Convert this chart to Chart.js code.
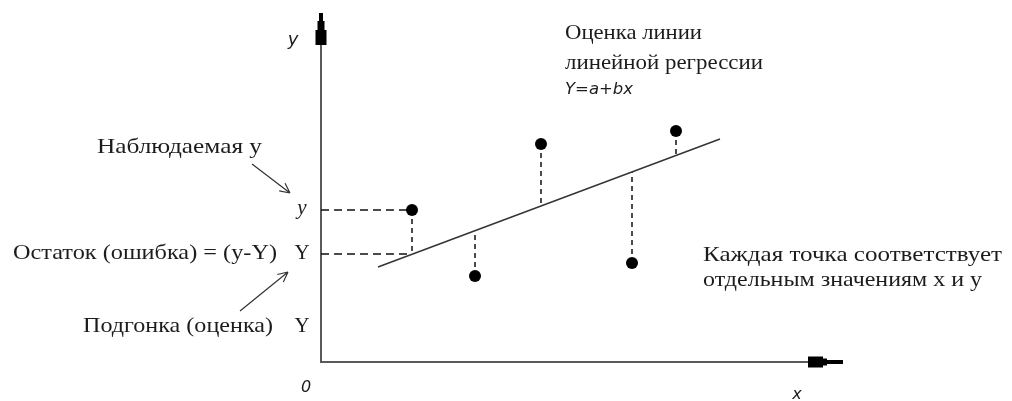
<!DOCTYPE html>
<html><head><meta charset="utf-8">
<script src="https://cdn.jsdelivr.net/npm/chart.js@4"></script>
<style>html,body{margin:0;padding:0;background:#fff;overflow:hidden}</style>
</head><body>
<canvas id="c" width="1012" height="401"></canvas>
<script>
// Observed points (x, y)
const obsX = [1.82, 3.08, 4.40, 6.22, 7.10];
const obsY = [3.04, 1.72, 4.36, 1.98, 4.62];
// Fitted values on the regression line at each observed x
const fitY = [2.16, 2.60, 3.16, 3.80, 4.16];
// Regression line end points
const lineX = [1.14, 7.98];
const lineY = [1.90, 4.46];
// Axis extents
const xMax = 10.5, yMax = 7;
const xAxisEnd = 10.44, yAxisEnd = 6.98;

const SERIF = '"Liberation Serif", "Times New Roman", serif';
const SANS = '"DejaVu Sans", Verdana, sans-serif';
// w = target rendered width in px (text is stretched horizontally to fit)
const annotations = [
  {t: 'y', x: -0.56, y: 6.44, f: 'italic 18px ' + SANS, a: 'center'},
  {t: '0', x: -0.30, y: -0.52, f: 'italic 16px ' + SANS, a: 'center'},
  {t: 'x', x: 9.52, y: -0.66, f: 'italic 16px ' + SANS, a: 'center'},
  {t: 'Оценка линии', x: 4.88, y: 6.58, f: '22px ' + SERIF, a: 'left', w: 137},
  {t: 'линейной регрессии', x: 4.88, y: 5.98, f: '22px ' + SERIF, a: 'left', w: 198},
  {t: 'Y=a+bx', x: 4.88, y: 5.44, f: 'italic 15px ' + SANS, a: 'left', w: 68},
  {t: 'Наблюдаемая y', x: -4.48, y: 4.30, f: '21px ' + SERIF, a: 'left', w: 165},
  {t: 'y', x: -0.38, y: 3.08, f: 'italic 21px ' + SERIF, a: 'center'},
  {t: 'Остаток (ошибка) = (y-Y)', x: -6.16, y: 2.18, f: '21px ' + SERIF, a: 'left', w: 264},
  {t: 'Y', x: -0.38, y: 2.18, f: '21px ' + SERIF, a: 'center'},
  {t: 'Подгонка (оценка)', x: -4.76, y: 0.72, f: '21px ' + SERIF, a: 'left', w: 190},
  {t: 'Y', x: -0.38, y: 0.72, f: '21px ' + SERIF, a: 'center'},
  {t: 'Каждая точка соответствует', x: 7.64, y: 2.14, f: '21px ' + SERIF, a: 'left', w: 299},
  {t: 'отдельным значениям x и y', x: 7.64, y: 1.64, f: '21px ' + SERIF, a: 'left', w: 279}
];
const pointers = [
  {x1: -1.38, y1: 3.96, x2: -0.62, y2: 3.38},
  {x1: -1.62, y1: 1.02, x2: -0.66, y2: 1.80}
];

const residualData = [];
obsX.forEach((x, i) => {
  residualData.push({x: x, y: obsY[i]}, {x: x, y: fitY[i]}, {x: x, y: null});
});
const guideData = [
  {x: 0, y: obsY[0]}, {x: obsX[0], y: obsY[0]}, {x: 0, y: null},
  {x: 0, y: fitY[0]}, {x: obsX[0], y: fitY[0]}
];

const decor = {
  id: 'decor',
  beforeDatasetsDraw(chart) {
    const ctx = chart.ctx, xs = chart.scales.x, ys = chart.scales.y;
    const ox = xs.getPixelForValue(0), oy = ys.getPixelForValue(0);
    const ex = xs.getPixelForValue(xAxisEnd), ey = ys.getPixelForValue(yAxisEnd);
    ctx.save();
    ctx.strokeStyle = '#5a5a5a';
    ctx.lineWidth = 2;
    ctx.beginPath();
    ctx.moveTo(ox, ey + 2); ctx.lineTo(ox, oy); ctx.lineTo(ex - 2, oy);
    ctx.stroke();
    ctx.fillStyle = '#000';
    // y arrow
    ctx.fillRect(ox - 2, ey, 4, 18);
    ctx.fillRect(ox - 3.5, ey + 8, 7, 10);
    ctx.fillRect(ox - 5.5, ey + 17, 11, 15);
    // x arrow
    ctx.fillRect(ex - 18, oy - 2, 18, 4);
    ctx.fillRect(ex - 26, oy - 3.5, 10, 7);
    ctx.fillRect(ex - 35, oy - 5.5, 15, 11);
    ctx.restore();
  },
  afterDraw(chart) {
    const ctx = chart.ctx, xs = chart.scales.x, ys = chart.scales.y;
    ctx.save();
    ctx.fillStyle = '#1c1c1c';
    ctx.textBaseline = 'middle';
    annotations.forEach(a => {
      ctx.font = a.f;
      const px = xs.getPixelForValue(a.x), py = ys.getPixelForValue(a.y);
      if (a.w) {
        const s = a.w / ctx.measureText(a.t).width;
        ctx.save();
        ctx.translate(px, py);
        ctx.scale(s, 1);
        ctx.textAlign = 'left';
        ctx.fillText(a.t, 0, 0);
        ctx.restore();
      } else {
        ctx.textAlign = a.a;
        ctx.fillText(a.t, px, py);
      }
    });
    ctx.strokeStyle = '#333';
    ctx.lineWidth = 1.2;
    pointers.forEach(p => {
      const x1 = xs.getPixelForValue(p.x1), y1 = ys.getPixelForValue(p.y1);
      const x2 = xs.getPixelForValue(p.x2), y2 = ys.getPixelForValue(p.y2);
      const ang = Math.atan2(y2 - y1, x2 - x1);
      ctx.beginPath();
      ctx.moveTo(x1, y1); ctx.lineTo(x2, y2);
      for (const d of [-0.45, 0.45]) {
        ctx.moveTo(x2, y2);
        ctx.lineTo(x2 - 11 * Math.cos(ang + d), y2 - 11 * Math.sin(ang + d));
      }
      ctx.stroke();
    });
    ctx.restore();
  }
};

new Chart(document.getElementById('c'), {
  type: 'scatter',
  data: {
    datasets: [
      {label: 'Наблюдения', data: obsX.map((x, i) => ({x: x, y: obsY[i]})),
       pointRadius: 6, pointBackgroundColor: '#000', pointBorderColor: '#000', pointBorderWidth: 0,
       showLine: false, order: 0, clip: false},
      {label: 'Регрессия', data: lineX.map((x, i) => ({x: x, y: lineY[i]})),
       showLine: true, borderColor: '#333', borderWidth: 1.4, pointRadius: 0, order: 1, clip: false},
      {label: 'Остатки', data: residualData, showLine: true, spanGaps: false,
       borderColor: '#111', borderWidth: 1.5, borderDash: [5, 4], pointRadius: 0, order: 2, clip: false},
      {label: 'Проекции', data: guideData, showLine: true, spanGaps: false,
       borderColor: '#111', borderWidth: 1.3, borderDash: [8, 5], pointRadius: 0, order: 3, clip: false}
    ]
  },
  options: {
    responsive: false,
    animation: false,
    layout: {padding: {left: 321, right: 166, top: 12, bottom: 39}},
    scales: {
      x: {type: 'linear', min: 0, max: xMax, display: false},
      y: {type: 'linear', min: 0, max: yMax, display: false}
    },
    plugins: {legend: {display: false}, tooltip: {enabled: false}}
  },
  plugins: [decor]
});
</script>
</body></html>
